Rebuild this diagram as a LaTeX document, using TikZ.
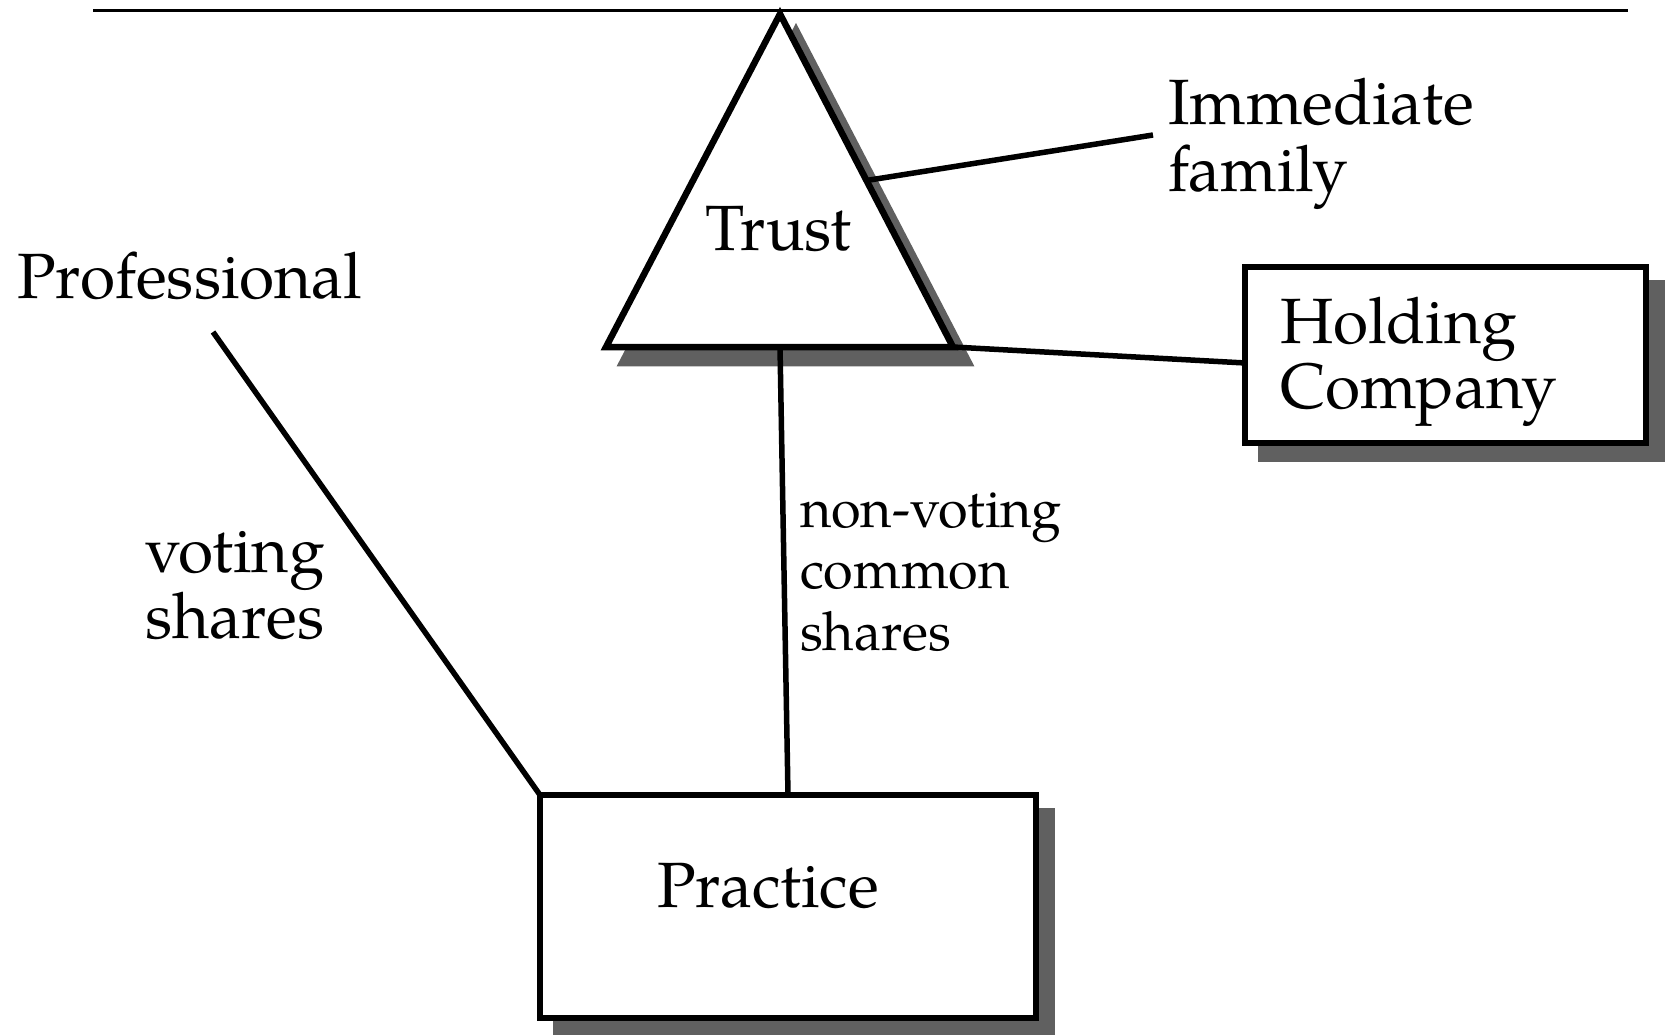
\documentclass[tikz,border=0pt]{standalone}
\usepackage{fontspec}
\setmainfont{TeX Gyre Pagella}
\usetikzlibrary{calc,backgrounds}
\definecolor{shadowgray}{RGB}{96,96,96}
\begin{document}
\begin{tikzpicture}[x=1pt,y=-1pt,
  lbl/.style={inner sep=0pt, outer sep=0pt, anchor=base west, align=left, font=\fontsize{64}{66}\selectfont},
  conn/.style={line width=5.5pt},
  boxstyle/.style={draw, line width=6pt, inner sep=0pt, outer sep=0pt, fill=white},
  shade/.style={fill=shadowgray}]
\useasboundingbox (0,0) rectangle (1670,1035);

% top rule
\coordinate (tl) at (93,11);
\coordinate (tr) at (1628,11);
\draw[line width=3pt] (tl) -- (tr);

% triangle (Trust)
\coordinate (apex) at (780,14);
\coordinate (bl) at (606,347);
\coordinate (br) at (953,347);
\coordinate (bmid) at (780,347);
\filldraw[shadowgray, line width=6.5pt, line join=miter]
  ([shift={(16,16)}]apex) -- ([shift={(16,16)}]br) -- ([shift={(16,16)}]bl) -- cycle;
\draw[line width=6.5pt, fill=white, line join=miter] (apex) -- (br) -- (bl) -- cycle;
\draw[line width=3pt] (tl) -- (tr);

% boxes
\node[boxstyle, minimum width=401pt, minimum height=176pt] (hold) at (1445,354.5) {};
\node[boxstyle, minimum width=496pt, minimum height=223pt] (prac) at (788,906.5) {};
\begin{scope}[on background layer]
  \fill[shade] ([shift={(13,13)}]hold.north west) rectangle ([shift={(19,19)}]hold.south east);
  \fill[shade] ([shift={(13,13)}]prac.north west) rectangle ([shift={(19,19)}]prac.south east);
\end{scope}

% texts (base anchor = baseline of last line)
\node[lbl] (trust) at (705,250) {Trust};
\node[lbl] (practice) at (657,907) {Practice};
\node[lbl, font=\fontsize{64}{67}\selectfont] (family) at (1168,192) {Immediate\\family};
\node[lbl, font=\fontsize{64}{61}\selectfont] (holdtxt) at (1280,408) {Holding\\Company};
\node[lbl] (prof) at (17,298) {Professional};
\node[lbl, font=\fontsize{64}{66}\selectfont] (vs) at (145,638) {voting\\shares};
\node[lbl, font=\fontsize{54}{61.5}\selectfont] (nvcs) at (800,650) {non-voting\\common\\shares};

% connectors
\coordinate (profend) at (213,332);
\coordinate (famedge) at ($(apex)!0.5!(br)$);
\coordinate (famend) at (1153,135);
\coordinate (holdin) at ($(hold.north west)!0.548!(hold.south west)$);
\draw[conn] (profend) -- (prac.north west);
\draw[conn] (bmid) -- (prac.north);
\draw[conn] (famedge) -- (famend);
\draw[conn] (br) -- (holdin);
\end{tikzpicture}
\end{document}
